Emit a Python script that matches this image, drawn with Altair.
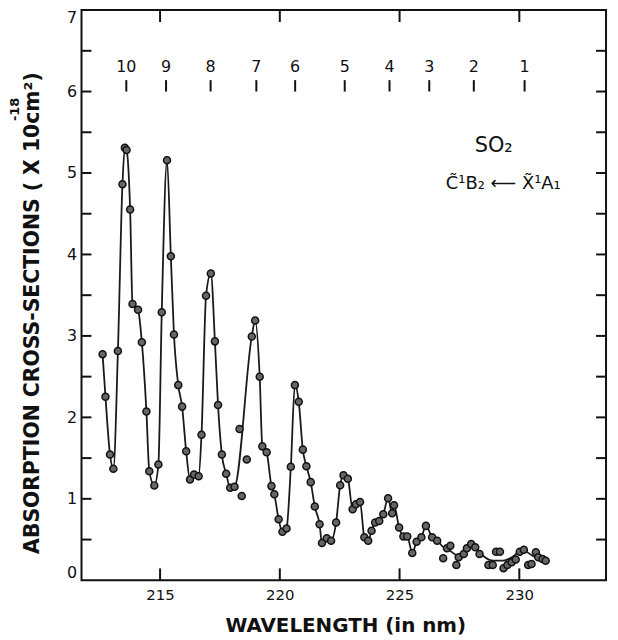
import altair as alt
import pandas as pd

# ---- data ----
# points lying on the drawn curve (wavelength nm, cross-section 1e-18 cm^2)
wl_on = [212.60, 212.72, 212.91, 213.05, 213.24, 213.43, 213.53, 213.60, 213.75, 213.85,
         214.08, 214.24, 214.43, 214.55, 214.76, 214.93, 215.07, 215.29, 215.45, 215.58,
         215.76, 215.92, 216.09, 216.25, 216.42, 216.61, 216.73, 216.92, 217.12, 217.29,
         217.42, 217.58, 217.76, 217.93, 218.11, 218.83, 218.97, 219.16, 219.27, 219.45,
         219.65, 219.77, 219.95, 220.11, 220.28, 220.46, 220.63, 220.79, 220.96, 221.11,
         221.29, 221.46, 221.66, 221.76, 221.96, 222.14, 222.35, 222.52, 222.66, 222.84,
         223.04, 223.18, 223.35, 223.53, 223.69, 223.83, 223.98, 224.15, 224.32, 224.52,
         224.69, 224.77, 224.98, 225.16, 225.32, 225.53, 225.71, 225.91, 226.10]
xs_on = [2.774, 2.254, 1.543, 1.368, 2.815, 4.863, 5.311, 5.283, 4.551, 3.393,
         3.320, 2.921, 2.071, 1.339, 1.165, 1.421, 3.290, 5.156, 3.978, 3.018,
         2.396, 2.132, 1.583, 1.238, 1.299, 1.278, 1.787, 3.494, 3.766, 2.933,
         2.152, 1.543, 1.307, 1.137, 1.149, 2.994, 3.189, 2.498, 1.644, 1.571,
         1.156, 1.055, 0.750, 0.595, 0.637, 1.393, 2.396, 2.193, 1.604, 1.400,
         1.205, 0.905, 0.689, 0.457, 0.515, 0.485, 0.710, 1.168, 1.290, 1.246,
         0.872, 0.933, 0.961, 0.527, 0.485, 0.607, 0.710, 0.729, 0.811, 1.006,
         0.823, 0.921, 0.649, 0.539, 0.539, 0.335, 0.473, 0.527, 0.668]

# smoothed curve through the noisy long-wavelength tail
wl_tail = [226.36, 226.57, 226.78, 227.12, 227.40, 227.68, 228.02, 228.23, 228.51,
           228.92, 229.34, 229.75, 230.09, 230.30, 230.58, 230.88, 231.13]
xs_tail = [0.53, 0.49, 0.42, 0.36, 0.31, 0.35, 0.445, 0.384, 0.295,
           0.241, 0.241, 0.295, 0.376, 0.351, 0.295, 0.271, 0.241]

# measured points not on the curve
wl_off = [218.32, 218.62, 218.41,
          226.36, 226.57, 226.82, 226.98, 227.12, 227.37, 227.47, 227.68, 227.81, 227.99,
          228.16, 228.34, 228.71, 228.89, 229.03, 229.19, 229.34, 229.50, 229.68, 229.85,
          230.02, 230.19, 230.37, 230.51, 230.69, 230.79, 230.97, 231.10]
xs_off = [1.856, 1.482, 1.034,
          0.527, 0.485, 0.271, 0.393, 0.424, 0.189, 0.283, 0.323, 0.393, 0.445,
          0.405, 0.323, 0.189, 0.189, 0.351, 0.351, 0.149, 0.189, 0.222, 0.254,
          0.351, 0.376, 0.189, 0.201, 0.344, 0.283, 0.262, 0.241]

# vibrational progression markers
prog_labels = ["10", "9", "8", "7", "6", "5", "4", "3", "2", "1"]
prog_wl = [213.59, 215.25, 217.11, 219.02, 220.64, 222.71, 224.58, 226.24, 228.10, 230.22]

x_ticks = [215, 220, 225, 230]
y_labels = [0, 1, 2, 3, 4, 5, 6, 7]
y_minor = [0.5, 1, 1.5, 2, 2.5, 3, 3.5, 4, 4.5, 5, 5.5, 6, 6.5]

W, H = 528, 574
FONT = "DejaVu Sans"

curve = pd.DataFrame({"wl": wl_on + wl_tail, "val": xs_on + xs_tail})
pts = pd.DataFrame({"wl": wl_on + wl_off, "val": xs_on + xs_off})
prog = pd.DataFrame({"wl": prog_wl, "lab": prog_labels,
                     "ly": [6.30] * len(prog_wl), "t1": [6.0] * len(prog_wl),
                     "t2": [6.14] * len(prog_wl)})
xt = pd.DataFrame({"wl": x_ticks})
ym = pd.DataFrame({"val": y_minor})

xscale = alt.Scale(domain=[211.72, 233.62], nice=False, zero=False)
yscale = alt.Scale(domain=[0, 7], nice=False, zero=True)
xaxis = alt.Axis(values=x_ticks, ticks=False, domain=False, grid=False, title=None,
                 labelFont=FONT, labelFontSize=15, labelColor="#111", labelPadding=7)
yaxis = alt.Axis(values=y_labels, ticks=False, domain=False, grid=False, title=None,
                 labelFont=FONT, labelFontSize=16, labelColor="#111", labelPadding=5,
                 labelFlush=True)
X = alt.X("wl:Q", scale=xscale, axis=xaxis)
Y = alt.Y("val:Q", scale=yscale, axis=yaxis)

line = alt.Chart(curve).mark_line(color="#1a1a1a", strokeWidth=1.8,
                                  interpolate="monotone").encode(x=X, y=Y)
points = alt.Chart(pts).mark_point(filled=True, size=50, fill="#666", stroke="#111",
                                   strokeWidth=1.5, opacity=1).encode(x=X, y=Y)

left_ticks = alt.Chart(ym).mark_rule(color="#111", strokeWidth=2).encode(
    y=Y, x=alt.value(0), x2=alt.value(10))
right_ticks = alt.Chart(ym).mark_rule(color="#111", strokeWidth=2).encode(
    y=Y, x=alt.value(W - 10), x2=alt.value(W))
bottom_ticks = alt.Chart(xt).mark_rule(color="#111", strokeWidth=2).encode(
    x=X, y=alt.value(H - 12), y2=alt.value(H))
top_ticks = alt.Chart(xt).mark_rule(color="#111", strokeWidth=2).encode(
    x=X, y=alt.value(0), y2=alt.value(12))

prog_ticks = alt.Chart(prog).mark_rule(color="#111", strokeWidth=2).encode(
    x=X, y=alt.Y("t1:Q", scale=yscale, axis=yaxis), y2="t2:Q")
prog_text = alt.Chart(prog).mark_text(font=FONT, fontSize=16, color="#111",
                                      baseline="middle").encode(
    x=X, y=alt.Y("ly:Q", scale=yscale, axis=yaxis), text="lab:N")

ann = pd.DataFrame({"wl": [228.93, 229.33], "ly": [5.335, 4.86],
                    "t": ["SO₂", "C\u0303¹B₂ ⟵ X\u0303¹A₁"]})
so2 = alt.Chart(ann.iloc[[0]]).mark_text(font=FONT, fontSize=21, color="#111",
                                         baseline="middle").encode(
    x=X, y=alt.Y("ly:Q", scale=yscale, axis=yaxis), text="t:N")
trans = alt.Chart(ann.iloc[[1]]).mark_text(font=FONT, fontSize=18, color="#111",
                                           baseline="middle").encode(
    x=X, y=alt.Y("ly:Q", scale=yscale, axis=yaxis), text="t:N")

ytitle = alt.Chart(pd.DataFrame({"t": ["ABSORPTION CROSS-SECTIONS ( X 10cm²)"]})).mark_text(
    font=FONT, fontSize=20.5, fontWeight="bold", color="#111", angle=270,
    baseline="middle", align="center").encode(
    text="t:N", x=alt.value(-49), y=alt.value(305))
yexp = alt.Chart(pd.DataFrame({"t": ["-18"]})).mark_text(
    font=FONT, fontSize=13, fontWeight="bold", color="#111", angle=270,
    baseline="middle", align="center").encode(
    text="t:N", x=alt.value(-67), y=alt.value(100))
xtitle = alt.Chart(pd.DataFrame({"t": ["WAVELENGTH (in nm)"]})).mark_text(
    font=FONT, fontSize=20, fontWeight="bold", color="#111",
    baseline="alphabetic", align="center").encode(
    text="t:N", x=alt.value(266), y=alt.value(626))

chart = alt.layer(line, points, left_ticks, right_ticks, bottom_ticks, top_ticks,
                  prog_ticks, prog_text, so2, trans, ytitle, yexp, xtitle).properties(
    width=W, height=H,
    autosize=alt.AutoSizeParams(type="none"),
    padding={"left": 74, "top": 0, "right": 4, "bottom": 56},
    background="white",
).configure_view(stroke="#111", strokeWidth=2)

chart.save("out.html", embed_options={"renderer": "svg", "actions": False})
